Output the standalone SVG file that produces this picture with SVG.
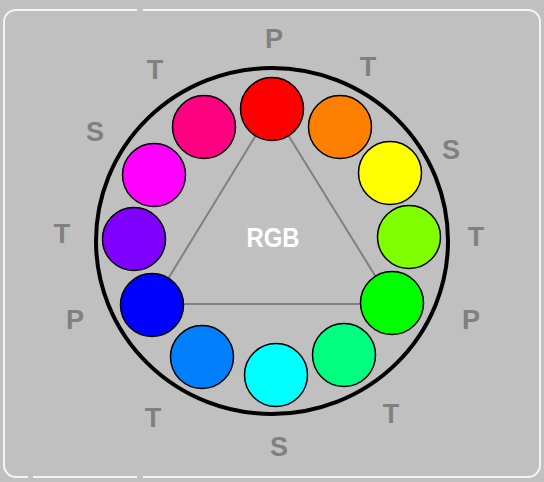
<svg xmlns="http://www.w3.org/2000/svg" width="544" height="482" viewBox="0 0 544 482">
<style>
.lbl{font-family:"Liberation Sans",Arial,sans-serif;font-weight:bold;font-size:27px;fill:#808080;text-anchor:middle}
.dot{stroke:#000;stroke-width:1.5}
.edge{stroke:#808080;stroke-width:2;fill:none}
</style>
<rect x="0" y="0" width="544" height="482" fill="#C0C0C0"/>
<path d="M16 10 L137 10 M143 10 L528 10 A12 12 0 0 1 540 22 L540 465 A12 12 0 0 1 528 477 L143 477 M137 477 L33 477 M28 477 L16 477 A12 12 0 0 1 4 465 L4 22 A12 12 0 0 1 16 10" fill="none" stroke="#F4F4F4" stroke-width="2"/>
<g id="ring">
<ellipse cx="272" cy="241" rx="176" ry="173" fill="none" stroke="#000" stroke-width="4"/>
</g>
<g id="connectors">
<line class="edge" x1="272" y1="109" x2="152" y2="305"/>
<line class="edge" x1="152" y1="304" x2="392" y2="304"/>
<line class="edge" x1="392" y1="303" x2="272" y2="109"/>
</g>
<g id="red"><circle class="dot" cx="272" cy="109" r="31.5" fill="#FF0000"/></g>
<g id="orange"><circle class="dot" cx="340" cy="127" r="31.5" fill="#FF8000"/></g>
<g id="yellow"><circle class="dot" cx="390" cy="173" r="31.5" fill="#FFFF00"/></g>
<g id="chartreuse"><circle class="dot" cx="409" cy="237" r="31.5" fill="#80FF00"/></g>
<g id="green"><circle class="dot" cx="392" cy="303" r="31.5" fill="#00FF00"/></g>
<g id="spring"><circle class="dot" cx="344" cy="355" r="31.5" fill="#00FF80"/></g>
<g id="cyan"><circle class="dot" cx="276" cy="375" r="31.5" fill="#00FFFF"/></g>
<g id="azure"><circle class="dot" cx="202" cy="357" r="31.5" fill="#0080FF"/></g>
<g id="blue"><circle class="dot" cx="152" cy="305" r="31.5" fill="#0000FF"/></g>
<g id="violet"><circle class="dot" cx="134" cy="239" r="31.5" fill="#8000FF"/></g>
<g id="magenta"><circle class="dot" cx="154" cy="175" r="31.5" fill="#FF00FF"/></g>
<g id="rose"><circle class="dot" cx="204" cy="127" r="31.5" fill="#FF0080"/></g>
<g id="center"><text x="273" y="247" font-family="Liberation Sans,Arial,sans-serif" font-weight="bold" font-size="27" fill="#FFFFFF" text-anchor="middle" textLength="53" lengthAdjust="spacingAndGlyphs">RGB</text></g>
<g id="labels">
<text class="lbl" x="274" y="48">P</text>
<text class="lbl" x="368" y="76">T</text>
<text class="lbl" x="451" y="159">S</text>
<text class="lbl" x="476" y="246">T</text>
<text class="lbl" x="471" y="329">P</text>
<text class="lbl" x="391" y="423">T</text>
<text class="lbl" x="279" y="456">S</text>
<text class="lbl" x="153" y="427">T</text>
<text class="lbl" x="75" y="329">P</text>
<text class="lbl" x="62" y="243">T</text>
<text class="lbl" x="95" y="141">S</text>
<text class="lbl" x="155" y="79">T</text>
</g>
</svg>
